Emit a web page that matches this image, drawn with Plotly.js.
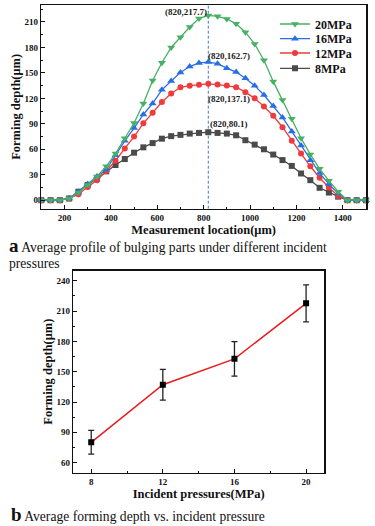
<!DOCTYPE html>
<html>
<head>
<meta charset="utf-8">
<script src="https://cdn.plot.ly/plotly-3.0.1.min.js"></script>
<style>html,body{margin:0;padding:0;background:#fff;}#chart{width:375px;height:526px;}</style>
</head>
<body>
<div id="chart"></div>
<script>
// ---- Panel a: average profile ----
const location_um = [100,140,180,220,260,300,340,380,420,460,500,540,580,620,660,700,740,780,820,860,900,940,980,1020,1060,1100,1140,1180,1220,1260,1300,1340,1380,1420,1460,1500];
const depth_20MPa = [0,0,0,2,9,18,28,40,55,73,91,114,141,162,180,192,204,214,217.7,216.7,213.6,208,198,184,165,140,118,96,73,54,37,23,10,0,0,0];
const depth_16MPa = [0,0,0,2,10,19,28,36,53,70,85,101,114,130,140.5,150.5,157.5,161.8,162.7,160.8,155.6,151,143.8,135,124,111,97.5,81,64.5,47,32,19,8,0,0,0];
const depth_12MPa = [0,0,0,2,7,15.5,23.5,34.5,46.5,61,75,90.6,103,115.7,125.7,133,135,136,137.1,136.3,135.1,133.2,127.3,120,110.4,99.5,86,70,55,40,26.5,15,5,0,0,0];
const depth_8MPa  = [0,0,0,2,10,18,25.5,34,41.5,48.5,56,62.3,67.3,72.5,75.5,77,78.5,79.3,80.1,79.3,78.5,76.5,70.7,65.5,60,53.8,47.3,40.4,31.5,23.6,14.6,9,4.2,0,0,0];
const seriesNames = ['20MPa','16MPa','12MPa','8MPa'];
const peakX = 820;
const peakLabels = ['(820,217.7)','(820,162.7)','(820,137.1)','(820,80.1)'];
const peakValues = [217.7,162.7,137.1,80.1];

// ---- Panel b: average forming depth vs pressure ----
const pressure_MPa = [8,12,16,20];
const avgDepth = [80.1,137.1,162.7,217.7];
const depthErr = [11.8,15.2,17,18.3];

const SERIF = 'Liberation Serif, Times New Roman, serif';
const colors = {'8MPa':'#4a4a4a','12MPa':'#ef3b3b','16MPa':'#2a6ee6','20MPa':'#46b063'};
const symbols = {'8MPa':'square','12MPa':'circle','16MPa':'triangle-up','20MPa':'triangle-down'};
const seriesData = {'8MPa':depth_8MPa,'12MPa':depth_12MPa,'16MPa':depth_16MPa,'20MPa':depth_20MPa};
const legendIds = ['legend','legend2','legend3','legend4'];
const legendRowsPx = [24, 38.7, 53, 68.3];

// draw 8MPa first so higher curves sit on top
const traces = seriesNames.slice().reverse().map(n => ({
  type:'scatter', mode:'lines+markers', name:n,
  legend: legendIds[seriesNames.indexOf(n)],
  x: location_um, y: seriesData[n], xaxis:'x', yaxis:'y',
  line:{color:colors[n], width:1.3},
  marker:{symbol:symbols[n], color:colors[n], size: n==='12MPa'||n==='8MPa' ? 6 : 7},
  cliponaxis:false
}));

traces.push({
  type:'scatter', mode:'lines+markers', showlegend:false,
  x: pressure_MPa, y: avgDepth, xaxis:'x2', yaxis:'y2',
  line:{color:'#ee1c1c', width:1.5},
  marker:{symbol:'square', color:'#000', size:6},
  error_y:{type:'data', array:depthErr, visible:true, color:'#222', thickness:1.3, width:3}
});

const axCommon = {
  showline:true, linecolor:'#111', linewidth:1.5, mirror:true,
  ticks:'inside', ticklen:4, tickwidth:1, tickcolor:'#111',
  showgrid:false, zeroline:false,
  tickfont:{family:SERIF, size:9, color:'#111', weight:'bold'},
  automargin:false
};
const titleFont = {family:SERIF, size:12.5, color:'#111', weight:'bold'};

const shifts = [[-22.7,3],[20.8,6.4],[20.8,-14.7],[20.8,8.2]];
const annotations = peakLabels.map((t,i) => ({
  x:peakX, y:peakValues[i], xref:'x', yref:'y', text:'<b>'+t+'</b>', showarrow:false,
  xshift:shifts[i][0], yshift:shifts[i][1], font:{family:SERIF, size:9, color:'#222'}
}));
annotations.push(
  {xref:'paper', yref:'paper', x:7/375, y:1-253/526, xanchor:'left', yanchor:'middle', align:'left', showarrow:false,
   text:'<span style="font-size:19px"><b>a</b></span><span style="font-size:13.6px"> Average profile of bulging parts under different incident</span><br><span style="font-size:13.6px">pressures</span>',
   font:{family:SERIF, size:12, color:'#111'}},
  {xref:'paper', yref:'paper', x:9/375, y:1-514/526, xanchor:'left', yanchor:'middle', showarrow:false,
   text:'<span style="font-size:19px"><b>b</b></span> Average forming depth vs. incident pressure',
   font:{family:SERIF, size:13.6, color:'#111'}}
);

const legendBase = {x:275/375, xanchor:'left', yanchor:'middle', bgcolor:'rgba(0,0,0,0)',
  font:{family:SERIF, size:12, color:'#111', weight:'bold'}, itemwidth:30};

const layout = {
  width:375, height:526, margin:{l:0,r:0,t:0,b:0},
  paper_bgcolor:'#fff', plot_bgcolor:'#fff',
  showlegend:true,
  xaxis: Object.assign({}, axCommon, {domain:[41.3/375, 366/375], anchor:'y', range:[100,1500],
    tick0:0, dtick:200, minor:{dtick:100, ticks:'inside', ticklen:2, tickcolor:'#111'},
    title:{text:'Measurement location(μm)', font:titleFont, standoff:1}}),
  yaxis: Object.assign({}, axCommon, {domain:[1-208.7/526, 1-5/526], anchor:'x', range:[-10,230],
    tick0:0, dtick:30, minor:{dtick:15, ticks:'inside', ticklen:2, tickcolor:'#111'},
    title:{text:'Forming depth(μm)', font:titleFont, standoff:1}}),
  xaxis2: Object.assign({}, axCommon, {domain:[73.3/375, 324/375], anchor:'y2', range:[7,21],
    tick0:0, dtick:4, minor:{dtick:2, ticks:'inside', ticklen:2, tickcolor:'#111'},
    title:{text:'Incident pressures(MPa)', font:titleFont, standoff:1}}),
  yaxis2: Object.assign({}, axCommon, {domain:[1-472.7/526, 1-270.7/526], anchor:'x2', range:[50,250],
    tick0:0, dtick:30, minor:{dtick:15, ticks:'inside', ticklen:2, tickcolor:'#111'},
    title:{text:'Forming depth(μm)', font:titleFont, standoff:1}}),
  shapes:[{type:'line', xref:'x', yref:'y', x0:peakX, x1:peakX, y0:-10, y1:230,
    line:{color:'#3d78d8', width:1, dash:'3px,2px'}, layer:'below'}],
  annotations: annotations
};
legendIds.forEach((id,i) => {
  layout[id] = Object.assign({}, legendBase, {y:1-legendRowsPx[i]/526});
});

Plotly.newPlot('chart', traces, layout, {staticPlot:true, displayModeBar:false});
</script>
</body>
</html>
